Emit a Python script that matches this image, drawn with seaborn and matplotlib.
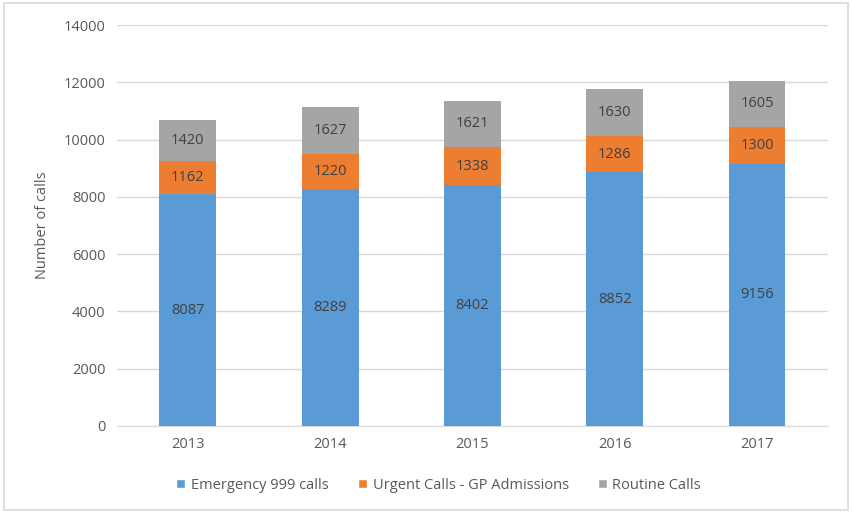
import numpy as np
import pandas as pd
import matplotlib
matplotlib.use('Agg')
import matplotlib.pyplot as plt
import seaborn as sns
from matplotlib.patches import Patch, Rectangle

years = ['2013', '2014', '2015', '2016', '2017']
emergency = [8087, 8289, 8402, 8852, 9156]
urgent = [1162, 1220, 1338, 1286, 1300]
routine = [1420, 1627, 1621, 1630, 1605]
series_names = ['Emergency 999 calls', 'Urgent Calls - GP Admissions', 'Routine Calls']
colors = ['#5b9bd5', '#ed7d31', '#a5a5a5']

df = pd.DataFrame({'year': years, 'emergency': emergency, 'urgent': urgent, 'routine': routine})
df['eu'] = df['emergency'] + df['urgent']
df['total'] = df['eu'] + df['routine']

sns.set_style('white')
plt.rcParams['font.family'] = ['Open Sans', 'DejaVu Sans']
txt = '#595959'
fs = 10.5

fig = plt.figure(figsize=(8.52, 5.13), dpi=100)
ax = fig.add_axes([0.137, 0.170, 0.835, 0.781])

# stacked by overlaying cumulative totals
sns.barplot(data=df, x='year', y='total', color=colors[2], width=0.4, saturation=1, linewidth=0, ax=ax, zorder=2)
sns.barplot(data=df, x='year', y='eu', color=colors[1], width=0.4, saturation=1, linewidth=0, ax=ax, zorder=3)
sns.barplot(data=df, x='year', y='emergency', color=colors[0], width=0.4, saturation=1, linewidth=0, ax=ax, zorder=4)

for i in range(len(years)):
    ax.text(i, df['emergency'][i] / 2, str(emergency[i]), ha='center', va='center', fontsize=fs, color='#404040', zorder=5)
    ax.text(i, df['emergency'][i] + urgent[i] / 2, str(urgent[i]), ha='center', va='center', fontsize=fs, color='#404040', zorder=5)
    ax.text(i, df['eu'][i] + routine[i] / 2, str(routine[i]), ha='center', va='center', fontsize=fs, color='#404040', zorder=5)

ax.set_ylim(0, 14000)
ax.set_yticks(np.arange(0, 14001, 2000))
ax.set_xlim(-0.5, 4.5)
ax.yaxis.grid(True, color='#d9d9d9', linewidth=1, zorder=0)
ax.set_axisbelow(True)
for s in ['top', 'right', 'left']:
    ax.spines[s].set_visible(False)
ax.spines['bottom'].set_color('#d9d9d9')
ax.tick_params(axis='both', length=0, labelsize=fs, colors=txt, pad=8)
ax.set_xlabel('')
ax.set_ylabel('Number of calls', fontsize=fs, color=txt, labelpad=10)

handles = [Patch(facecolor=c, label=n) for c, n in zip(colors, series_names)]
fig.legend(handles=handles, loc='center', bbox_to_anchor=(0.515, 0.054), ncol=3, frameon=False,
           fontsize=fs, labelcolor=txt, handlelength=0.6, handleheight=0.6, columnspacing=2.0, handletextpad=0.4)

fig.patches.append(Rectangle((0.005, 0.006), 0.99, 0.988, transform=fig.transFigure,
                             fill=False, edgecolor='#d9d9d9', linewidth=1.2))

plt.savefig('out.png', dpi=100)
plt.close()
